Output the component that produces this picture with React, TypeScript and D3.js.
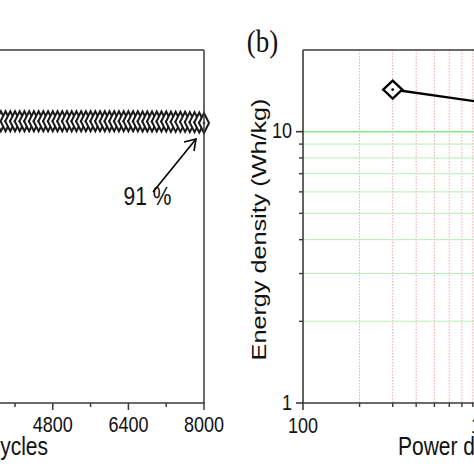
import React from "react";
import * as d3 from "d3";

// ---- Panel (a): cycling stability ----
const cycles = [
  0, 100, 200, 300, 400, 500, 600, 700, 800, 900, 1000, 1100, 1200, 1300, 1400, 1500, 1600,
  1700, 1800, 1900, 2000, 2100, 2200, 2300, 2400, 2500, 2600, 2700, 2800, 2900, 3000, 3100,
  3200, 3300, 3400, 3500, 3600, 3700, 3800, 3900, 4000, 4100, 4200, 4300, 4400, 4500, 4600,
  4700, 4800, 4900, 5000, 5100, 5200, 5300, 5400, 5500, 5600, 5700, 5800, 5900, 6000, 6100,
  6200, 6300, 6400, 6500, 6600, 6700, 6800, 6900, 7000, 7100, 7200, 7300, 7400, 7500, 7600,
  7700, 7800, 7900, 8000,
];
const retention = [
  92.6, 92.5, 92.5, 92.4, 92.4, 92.3, 92.3, 92.3, 92.2, 92.2, 92.2, 92.1, 92.1, 92.1, 92.0, 92.0, 92.0,
  92.0, 91.9, 91.9, 91.9, 91.9, 91.9, 91.9, 91.8, 91.8, 91.8, 91.8, 91.8, 91.8, 91.8, 91.8,
  91.8, 91.8, 91.8, 91.8, 91.8, 91.8, 91.8, 91.8, 91.8, 91.8, 91.8, 91.8, 91.8, 91.8, 91.8,
  91.8, 91.8, 91.8, 91.8, 91.8, 91.8, 91.8, 91.8, 91.8, 91.8, 91.8, 91.8, 91.8, 91.8, 91.8,
  91.8, 91.8, 91.8, 91.8, 91.8, 91.7, 91.7, 91.7, 91.7, 91.7, 91.7, 91.6, 91.6, 91.6, 91.6,
  91.5, 91.5, 91.4, 91.2,
];
const cycleMajorTicks = [0, 1600, 3200, 4800, 6400, 8000];
const cycleMinorTicks = [800, 2400, 4000, 5600, 7200];
const annotationText = "91 %";
const xLabelA = "Number of cycles";

// ---- Panel (b): Ragone plot ----
const powerDensity = [300, 1000];
const energyDensity = [14.3, 12.7];
const powerMajorTicks = [100, 1000];
const powerMinorTicks = [200, 300, 400, 500, 600, 700, 800, 900];
const powerGrid = [200, 300, 400, 500, 600, 700, 800, 900, 1000, 2000, 3000];
const energyMajorTicks = [1, 10];
const energyMinorTicks = [2, 3, 4, 5, 6, 7, 8, 9];
const xLabelB = "Power density (W/kg)";
const yLabelB = "Energy density (Wh/kg)";
const panelLabelB = "(b)";

const FONT = "'Liberation Sans', Arial, sans-serif";
const SY = 1.2; // vertical stretch of the original figure

function T({ x, y, anchor = "middle", size = 18, family = FONT, children }: any) {
  return (
    <g transform={`translate(${x},${y}) scale(1,${SY})`}>
      <text textAnchor={anchor} fontSize={size} fontFamily={family} fill="#111">
        {children}
      </text>
    </g>
  );
}

function diamond(cx: number, cy: number, hw: number, hh: number) {
  return `M${cx - hw},${cy}L${cx},${cy - hh}L${cx + hw},${cy}L${cx},${cy + hh}Z`;
}

export default function App() {
  const top = 50;
  const bottom = 403;

  const xA = d3.scaleLinear().domain([0, 8000]).range([-174, 204]);
  const yA = d3.scaleLinear().domain([0, 115]).range([bottom, top]);
  const lineA = d3.line<number>().x((_, i) => xA(cycles[i])).y((d) => yA(d));

  const xB = d3.scaleLog().domain([100, 10000]).range([303, 679]);
  const yB = d3.scaleLog().domain([1, 20]).range([bottom, top]);
  const lineB = d3.line<number>().x((_, i) => xB(powerDensity[i])).y((d) => yB(d));

  const axisColor = "#3a3a3a";

  return (
    <svg
      width={474}
      height={474}
      style={{ position: "fixed", left: 0, top: 0, background: "#fff" }}
      viewBox="0 0 474 474"
    >
      <rect x={0} y={0} width={474} height={474} fill="#fff" />

      {/* ===== Panel (a) ===== */}
      <g>
        <path d={lineA(retention) || ""} fill="none" stroke="#000" strokeWidth={1} />
        {retention.map((v, i) => (
          <g key={i}>
            <path
              d={diamond(xA(cycles[i]), yA(v), 5, 10)}
              fill="#fff"
              stroke="#1a1a1a"
              strokeWidth={2}
            />
            <circle cx={xA(cycles[i])} cy={yA(v)} r={1.3} fill="#111" />
          </g>
        ))}
        <line x1={xA(0)} x2={xA(8000)} y1={top} y2={top} stroke={axisColor} strokeWidth={1.5} />
        <line x1={xA(8000)} x2={xA(8000)} y1={top} y2={bottom} stroke={axisColor} strokeWidth={1.5} />
        <line x1={xA(0)} x2={xA(8000) + 0.75} y1={bottom} y2={bottom} stroke={axisColor} strokeWidth={1.5} />
        {cycleMajorTicks.map((t) => (
          <g key={"M" + t}>
            <line x1={xA(t)} x2={xA(t)} y1={bottom} y2={bottom + 7} stroke={axisColor} strokeWidth={1.5} />
            <T x={xA(t)} y={432} size={18}>
              {String(t)}
            </T>
          </g>
        ))}
        {cycleMinorTicks.map((t) => (
          <line key={"m" + t} x1={xA(t)} x2={xA(t)} y1={bottom} y2={bottom + 4} stroke={axisColor} strokeWidth={1.5} />
        ))}
        <T x={48} y={455} anchor="end" size={21}>
          {xLabelA}
        </T>
        <T x={147.5} y={205} size={21}>
          {annotationText}
        </T>
        <line x1={153} y1={192} x2={196} y2={139} stroke="#000" strokeWidth={1.6} />
        <path d="M184,142 L196,139 L194,151" fill="none" stroke="#000" strokeWidth={1.6} />
      </g>

      {/* ===== Panel (b) ===== */}
      <g>
        {powerGrid.map((t) => (
          <line
            key={"gx" + t}
            x1={xB(t)}
            x2={xB(t)}
            y1={top}
            y2={bottom}
            stroke="#f4a4a4"
            strokeWidth={1}
            strokeDasharray="1.5,1.5"
          />
        ))}
        {energyMinorTicks.map((t) => (
          <line
            key={"gy" + t}
            x1={303}
            x2={474}
            y1={yB(t)}
            y2={yB(t)}
            stroke="#b4f2b4"
            strokeWidth={1}
          />
        ))}
        <line x1={303} x2={474} y1={yB(10)} y2={yB(10)} stroke="#86e886" strokeWidth={1.6} />

        <path d={lineB(energyDensity) || ""} fill="none" stroke="#000" strokeWidth={2.4} />
        {energyDensity.map((v, i) => (
          <g key={i}>
            <path
              d={diamond(xB(powerDensity[i]), yB(v), 9.5, 9)}
              fill="#fff"
              stroke="#000"
              strokeWidth={2.4}
            />
            <circle cx={xB(powerDensity[i])} cy={yB(v)} r={1.4} fill="#000" />
          </g>
        ))}

        <line x1={303} x2={474} y1={top} y2={top} stroke={axisColor} strokeWidth={1.6} />
        <line x1={303} x2={303} y1={top} y2={bottom} stroke={axisColor} strokeWidth={1.6} />
        <line x1={303} x2={474} y1={bottom} y2={bottom} stroke={axisColor} strokeWidth={1.6} />
        {powerMajorTicks.map((t) => (
          <g key={"pM" + t}>
            <line x1={xB(t)} x2={xB(t)} y1={bottom} y2={bottom + 7} stroke={axisColor} strokeWidth={1.6} />
            <T x={xB(t)} y={433} size={18}>
              {String(t)}
            </T>
          </g>
        ))}
        {powerMinorTicks.map((t) => (
          <line key={"pm" + t} x1={xB(t)} x2={xB(t)} y1={bottom} y2={bottom + 4} stroke={axisColor} strokeWidth={1.4} />
        ))}
        {energyMajorTicks.map((t) => (
          <g key={"eM" + t}>
            <line x1={303} x2={296} y1={yB(t)} y2={yB(t)} stroke={axisColor} strokeWidth={1.6} />
            <T x={292} y={yB(t) + 6.5} anchor="end" size={18}>
              {String(t)}
            </T>
          </g>
        ))}
        {energyMinorTicks.map((t) => (
          <line key={"em" + t} x1={303} x2={299} y1={yB(t)} y2={yB(t)} stroke={axisColor} strokeWidth={1.4} />
        ))}
        <T x={398} y={455} anchor="start" size={21}>
          {xLabelB}
        </T>
        <g transform={`translate(266,229.5) scale(1,${SY}) rotate(-90)`}>
          <text textAnchor="middle" fontSize={21} fontFamily={FONT} fill="#111">
            {yLabelB}
          </text>
        </g>
        <T x={262.5} y={52} size={27} family="'Liberation Serif', 'Times New Roman', serif">
          {panelLabelB}
        </T>
      </g>
    </svg>
  );
}
